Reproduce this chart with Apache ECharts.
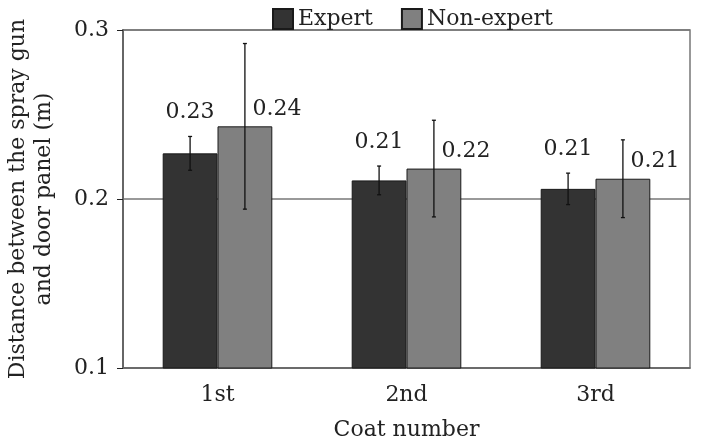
<!DOCTYPE html>
<html>
<head>
<meta charset="utf-8">
<script src="https://cdn.jsdelivr.net/npm/echarts@6/dist/echarts.min.js"></script>
<style>
  html, body { margin: 0; padding: 0; background: #fff; }
  #chart { width: 705px; height: 447px; }
</style>
</head>
<body>
<div id="chart"></div>
<script>
const categories = ['1st', '2nd', '3rd'];
const expert = [0.227, 0.211, 0.206];
const expertErr = [0.010, 0.0085, 0.0093];
const nonExpert = [0.243, 0.218, 0.212];
const nonExpertErr = [0.049, 0.0286, 0.023];
const yTicks = [0.1, 0.2, 0.3];

const font = "'DejaVu Serif', 'Liberation Serif', serif";
const barRatio = 0.29;

// error bar + value label, side = -1 for expert (left), 1 for non-expert (right)
function errorRenderer(side) {
  return function (params, api) {
    const i = api.value(0), v = api.value(1), e = api.value(2);
    const c = api.coord([i, v]);
    const bw = api.size([1, 0])[0] * barRatio;
    const x = c[0] + side * bw / 2;
    const top = api.coord([i, v + e])[1];
    const bot = api.coord([i, v - e])[1];
    const st = { stroke: '#111', lineWidth: 1.3 };
    const lx = side < 0 ? x : x + 32;
    const ly = side < 0 ? top - 24 : c[1] - 17;
    return {
      type: 'group',
      children: [
        { type: 'line', shape: { x1: x, y1: top, x2: x, y2: bot }, style: st },
        { type: 'line', shape: { x1: x - 2, y1: top, x2: x + 2, y2: top }, style: st },
        { type: 'line', shape: { x1: x - 2, y1: bot, x2: x + 2, y2: bot }, style: st },
        {
          type: 'text',
          style: {
            x: lx, y: ly, text: v.toFixed(2),
            align: 'center', verticalAlign: 'middle',
            font: '22px ' + font, fill: '#222'
          }
        }
      ]
    };
  };
}

const chart = echarts.init(document.getElementById('chart'));
chart.setOption({
  animation: false,
  textStyle: { fontFamily: font, color: '#222' },
  legend: {
    top: 3,
    left: 267,
    icon: 'rect',
    itemWidth: 20,
    itemHeight: 20,
    itemGap: 28,
    textStyle: { fontSize: 22, color: '#222', fontFamily: font },
    data: ['Expert', 'Non-expert']
  },
  grid: {
    left: 123, right: 15, top: 30, bottom: 79,
    outerBoundsMode: 'none',
    containLabel: false,
    show: true, borderColor: '#777', borderWidth: 1.5
  },
  xAxis: {
    type: 'category',
    data: categories,
    name: 'Coat number',
    nameLocation: 'middle',
    nameGap: 51,
    nameTextStyle: { fontSize: 22, color: '#222' },
    axisLine: { lineStyle: { color: '#666', width: 1.5 } },
    axisTick: { length: 6, lineStyle: { color: '#222' } },
    axisLabel: { fontSize: 22, color: '#222', margin: 16 }
  },
  yAxis: {
    type: 'value',
    min: yTicks[0],
    max: yTicks[yTicks.length - 1],
    interval: 0.1,
    name: 'Distance between the spray gun\nand door panel (m)',
    nameLocation: 'middle',
    nameGap: 66,
    nameTextStyle: { fontSize: 22, color: '#222', lineHeight: 26 },
    axisLine: { show: true, lineStyle: { color: '#666', width: 2 } },
    axisTick: { show: true, length: 6, lineStyle: { color: '#222' } },
    axisLabel: { fontSize: 22, color: '#222', margin: 14, formatter: v => v.toFixed(1) },
    splitLine: { show: true, lineStyle: { color: '#777', width: 1.5 } }
  },
  series: [
    {
      name: 'Expert', type: 'bar', data: expert,
      barWidth: (barRatio * 100) + '%', barGap: '0%',
      itemStyle: { color: '#333333', borderColor: '#1a1a1a', borderWidth: 1 }
    },
    {
      name: 'Non-expert', type: 'bar', data: nonExpert,
      barWidth: (barRatio * 100) + '%',
      itemStyle: { color: '#808080', borderColor: '#1a1a1a', borderWidth: 1 }
    },
    {
      type: 'custom', z: 10, renderItem: errorRenderer(-1),
      encode: { x: 0, y: 1 },
      data: expert.map((v, i) => [i, v, expertErr[i]])
    },
    {
      type: 'custom', z: 10, renderItem: errorRenderer(1),
      encode: { x: 0, y: 1 },
      data: nonExpert.map((v, i) => [i, v, nonExpertErr[i]])
    }
  ]
});
</script>
</body>
</html>
